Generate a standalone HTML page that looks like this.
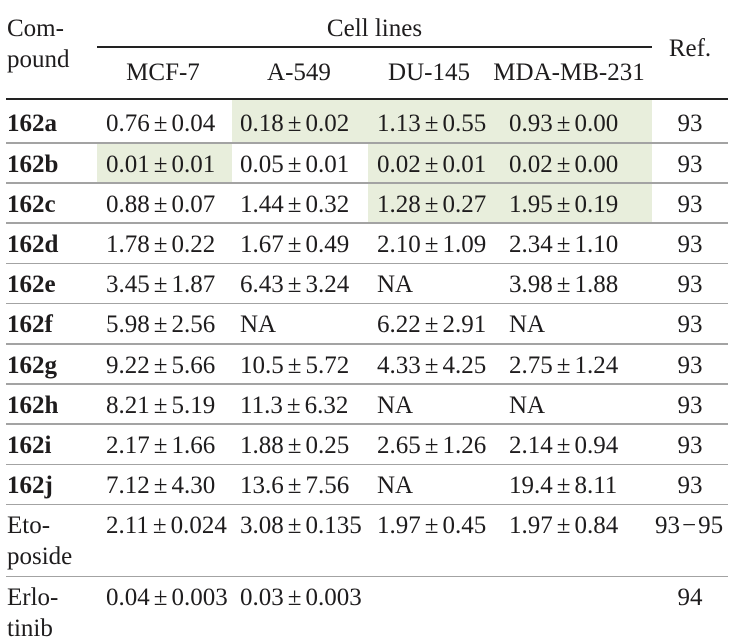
<!DOCTYPE html>
<html>
<head>
<meta charset="utf-8">
<style>
  html, body { margin:0; padding:0; background:#fff; }
  body { width:730px; height:640px; position:relative; overflow:hidden;
         font-family:"Liberation Serif", "Times New Roman", serif; font-size:25px; color:#1e1c1d; }
  .t { position:absolute; line-height:25px; white-space:nowrap; }
  .b { font-weight:bold; }
  .c { text-align:center; }
  .pm { margin:0 4px; }
  .hl { position:absolute; background:#e8eedc; }
  .sep { position:absolute; left:6px; width:722px; height:1.5px; background:#a3a3a3; }
  .rule { position:absolute; background:#222; }
</style>
</head>
<body>
<!-- highlights -->
<div class="hl" style="left:232px; top:99px; width:420px; height:44px;"></div>
<div class="hl" style="left:97px; top:143px; width:135px; height:40px;"></div>
<div class="hl" style="left:368px; top:143px; width:284px; height:40px;"></div>
<div class="hl" style="left:368px; top:183px; width:284px; height:40px;"></div>

<!-- rules -->
<div class="rule" style="left:97px; top:46px; width:555px; height:1.5px;"></div>
<div class="rule" style="left:6px; top:97.5px; width:722px; height:2px;"></div>

<!-- separators -->
<div class="sep" style="top:142px;"></div>
<div class="sep" style="top:182.2px;"></div>
<div class="sep" style="top:222.4px;"></div>
<div class="sep" style="top:262.6px;"></div>
<div class="sep" style="top:302.8px;"></div>
<div class="sep" style="top:343px;"></div>
<div class="sep" style="top:383.2px;"></div>
<div class="sep" style="top:423.4px;"></div>
<div class="sep" style="top:463.6px;"></div>
<div class="sep" style="top:503.8px;"></div>
<div class="sep" style="top:575.5px;"></div>

<!-- header -->
<div class="t" style="left:7px; top:16px;">Com-</div>
<div class="t" style="left:7px; top:47px;">pound</div>
<div class="t c" style="left:97px; width:555px; top:15.5px;">Cell lines</div>
<div class="t c" style="left:652px; width:76px; top:36px;">Ref.</div>
<div class="t c" style="left:63px; width:200px; top:60px;">MCF-7</div>
<div class="t c" style="left:199px; width:200px; top:60px;">A-549</div>
<div class="t c" style="left:329px; width:200px; top:60px;">DU-145</div>
<div class="t c" style="left:469px; width:200px; top:60px;">MDA-MB-231</div>

<!-- row 162a -->
<div class="t b" style="left:7px; top:111.3px;">162a</div>
<div class="t" style="left:106px; top:111.3px;">0.76<span class="pm">±</span>0.04</div>
<div class="t" style="left:240px; top:111.3px;">0.18<span class="pm">±</span>0.02</div>
<div class="t" style="left:377px; top:111.3px;">1.13<span class="pm">±</span>0.55</div>
<div class="t" style="left:509px; top:111.3px;">0.93<span class="pm">±</span>0.00</div>
<div class="t c" style="left:652px; width:76px; top:111.3px;">93</div>

<!-- row 162b -->
<div class="t b" style="left:7px; top:151.5px;">162b</div>
<div class="t" style="left:106px; top:151.5px;">0.01<span class="pm">±</span>0.01</div>
<div class="t" style="left:240px; top:151.5px;">0.05<span class="pm">±</span>0.01</div>
<div class="t" style="left:377px; top:151.5px;">0.02<span class="pm">±</span>0.01</div>
<div class="t" style="left:509px; top:151.5px;">0.02<span class="pm">±</span>0.00</div>
<div class="t c" style="left:652px; width:76px; top:151.5px;">93</div>

<!-- row 162c -->
<div class="t b" style="left:7px; top:191.7px;">162c</div>
<div class="t" style="left:106px; top:191.7px;">0.88<span class="pm">±</span>0.07</div>
<div class="t" style="left:240px; top:191.7px;">1.44<span class="pm">±</span>0.32</div>
<div class="t" style="left:377px; top:191.7px;">1.28<span class="pm">±</span>0.27</div>
<div class="t" style="left:509px; top:191.7px;">1.95<span class="pm">±</span>0.19</div>
<div class="t c" style="left:652px; width:76px; top:191.7px;">93</div>

<!-- row 162d -->
<div class="t b" style="left:7px; top:231.9px;">162d</div>
<div class="t" style="left:106px; top:231.9px;">1.78<span class="pm">±</span>0.22</div>
<div class="t" style="left:240px; top:231.9px;">1.67<span class="pm">±</span>0.49</div>
<div class="t" style="left:377px; top:231.9px;">2.10<span class="pm">±</span>1.09</div>
<div class="t" style="left:509px; top:231.9px;">2.34<span class="pm">±</span>1.10</div>
<div class="t c" style="left:652px; width:76px; top:231.9px;">93</div>

<!-- row 162e -->
<div class="t b" style="left:7px; top:272.1px;">162e</div>
<div class="t" style="left:106px; top:272.1px;">3.45<span class="pm">±</span>1.87</div>
<div class="t" style="left:240px; top:272.1px;">6.43<span class="pm">±</span>3.24</div>
<div class="t" style="left:377px; top:272.1px;">NA</div>
<div class="t" style="left:509px; top:272.1px;">3.98<span class="pm">±</span>1.88</div>
<div class="t c" style="left:652px; width:76px; top:272.1px;">93</div>

<!-- row 162f -->
<div class="t b" style="left:7px; top:312.3px;">162f</div>
<div class="t" style="left:106px; top:312.3px;">5.98<span class="pm">±</span>2.56</div>
<div class="t" style="left:240px; top:312.3px;">NA</div>
<div class="t" style="left:377px; top:312.3px;">6.22<span class="pm">±</span>2.91</div>
<div class="t" style="left:509px; top:312.3px;">NA</div>
<div class="t c" style="left:652px; width:76px; top:312.3px;">93</div>

<!-- row 162g -->
<div class="t b" style="left:7px; top:352.5px;">162g</div>
<div class="t" style="left:106px; top:352.5px;">9.22<span class="pm">±</span>5.66</div>
<div class="t" style="left:240px; top:352.5px;">10.5<span class="pm">±</span>5.72</div>
<div class="t" style="left:377px; top:352.5px;">4.33<span class="pm">±</span>4.25</div>
<div class="t" style="left:509px; top:352.5px;">2.75<span class="pm">±</span>1.24</div>
<div class="t c" style="left:652px; width:76px; top:352.5px;">93</div>

<!-- row 162h -->
<div class="t b" style="left:7px; top:392.7px;">162h</div>
<div class="t" style="left:106px; top:392.7px;">8.21<span class="pm">±</span>5.19</div>
<div class="t" style="left:240px; top:392.7px;">11.3<span class="pm">±</span>6.32</div>
<div class="t" style="left:377px; top:392.7px;">NA</div>
<div class="t" style="left:509px; top:392.7px;">NA</div>
<div class="t c" style="left:652px; width:76px; top:392.7px;">93</div>

<!-- row 162i -->
<div class="t b" style="left:7px; top:432.9px;">162i</div>
<div class="t" style="left:106px; top:432.9px;">2.17<span class="pm">±</span>1.66</div>
<div class="t" style="left:240px; top:432.9px;">1.88<span class="pm">±</span>0.25</div>
<div class="t" style="left:377px; top:432.9px;">2.65<span class="pm">±</span>1.26</div>
<div class="t" style="left:509px; top:432.9px;">2.14<span class="pm">±</span>0.94</div>
<div class="t c" style="left:652px; width:76px; top:432.9px;">93</div>

<!-- row 162j -->
<div class="t b" style="left:7px; top:473.1px;">162j</div>
<div class="t" style="left:106px; top:473.1px;">7.12<span class="pm">±</span>4.30</div>
<div class="t" style="left:240px; top:473.1px;">13.6<span class="pm">±</span>7.56</div>
<div class="t" style="left:377px; top:473.1px;">NA</div>
<div class="t" style="left:509px; top:473.1px;">19.4<span class="pm">±</span>8.11</div>
<div class="t c" style="left:652px; width:76px; top:473.1px;">93</div>

<!-- Etoposide -->
<div class="t" style="left:7px; top:512.5px;">Eto-</div>
<div class="t" style="left:7px; top:543.5px;">poside</div>
<div class="t" style="left:106px; top:512.5px;">2.11<span class="pm">±</span>0.024</div>
<div class="t" style="left:240px; top:512.5px;">3.08<span class="pm">±</span>0.135</div>
<div class="t" style="left:377px; top:512.5px;">1.97<span class="pm">±</span>0.45</div>
<div class="t" style="left:509px; top:512.5px;">1.97<span class="pm">±</span>0.84</div>
<div class="t" style="left:655px; top:512.5px;">93<span style="margin:0 2px;">−</span>95</div>

<!-- Erlotinib -->
<div class="t" style="left:7px; top:584.5px;">Erlo-</div>
<div class="t" style="left:7px; top:615.5px;">tinib</div>
<div class="t" style="left:106px; top:584.5px;">0.04<span class="pm">±</span>0.003</div>
<div class="t" style="left:240px; top:584.5px;">0.03<span class="pm">±</span>0.003</div>
<div class="t c" style="left:652px; width:76px; top:584.5px;">94</div>
</body>
</html>
